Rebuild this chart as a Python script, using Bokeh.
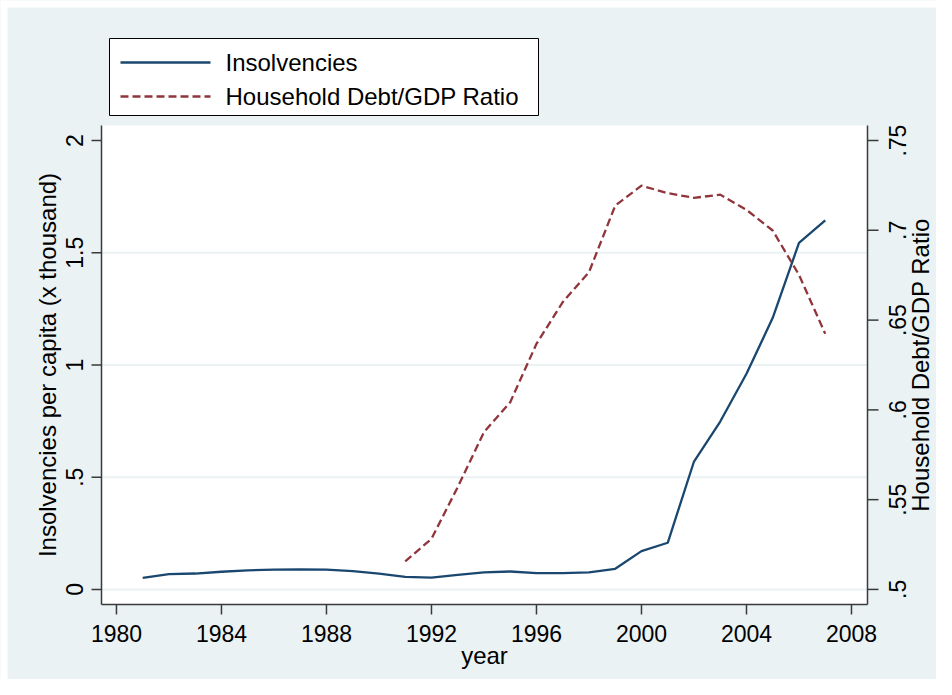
import math
from bokeh.plotting import figure
from bokeh.models import Range1d
from bokeh.core.properties import value
from bokeh.embed import file_html
from bokeh.resources import INLINE

# ---------------- data ----------------
years_ins = [1981, 1982, 1983, 1984, 1985, 1986, 1987, 1988, 1989, 1990,
             1991, 1992, 1993, 1994, 1995, 1996, 1997, 1998, 1999, 2000,
             2001, 2002, 2003, 2004, 2005, 2006, 2007]
insolvencies = [0.052, 0.068, 0.071, 0.079, 0.085, 0.088, 0.089, 0.088, 0.082, 0.071,
                0.056, 0.053, 0.065, 0.076, 0.080, 0.073, 0.073, 0.076, 0.092, 0.171,
                0.208, 0.570, 0.748, 0.961, 1.210, 1.544, 1.644]

years_debt = [1991, 1992, 1993, 1994, 1995, 1996, 1997, 1998, 1999, 2000,
              2001, 2002, 2003, 2004, 2005, 2006, 2007]
debt_ratio = [0.5156, 0.5282, 0.557, 0.5876, 0.6043, 0.6368, 0.6600, 0.6767, 0.7138, 0.7249,
              0.7207, 0.7181, 0.7199, 0.7114, 0.6999, 0.6752, 0.6424]

x_ticks = [1980, 1984, 1988, 1992, 1996, 2000, 2004, 2008]
x_labels = ["1980", "1984", "1988", "1992", "1996", "2000", "2004", "2008"]
left_ticks = [0, 0.5, 1, 1.5, 2]
left_labels = ["0", ".5", "1", "1.5", "2"]
grid_ticks = [0, 0.5, 1, 1.5]
right_ticks = [0.5, 0.55, 0.6, 0.65, 0.7, 0.75]
right_labels = [".5", ".55", ".6", ".65", ".7", ".75"]

x_title = "year"
left_title = "Insolvencies per capita (x thousand)"
right_title = "Household Debt/GDP Ratio"
legend_labels = ["Insolvencies", "Household Debt/GDP Ratio"]

# ---------------- style ----------------
FONT = value("Liberation Sans")
FS_TICK = "23px"
FS_TITLE = "24px"
BG = "#EAF2F3"
AXC = "#3a3a3a"
BLUE = "#1A476F"
RED = "#90353B"
LW = 2.3

# ---------------- geometry (pixels in the figure) ----------------
W, H = 936, 679
L, R, T, B = 101, 867, 125, 604       # white plot region
EDGE = 7                               # thin white edge at top and left

# data extents of the plot region
X0, X1 = 1979.43, 2008.61
Y0, Y1 = -0.067, 2.067
R0, R1 = 0.4916, 0.7584

px_x = (X1 - X0) / (R - L)
px_y = (Y1 - Y0) / (B - T)
px_r = (R1 - R0) / (B - T)

x_range = Range1d(X0 - L * px_x, X0 + (W - L) * px_x)
y_range = Range1d(Y0 - (H - B) * px_y, Y1 + T * px_y)
r_range = Range1d(R0 - (H - B) * px_r, R1 + T * px_r)

def sx(px):  # figure pixel column -> x data
    return x_range.start + px * px_x

def sy(py):  # figure pixel row (from top) -> left y data
    return y_range.end - py * px_y

p = figure(width=W, height=H, output_backend="svg", toolbar_location=None,
           x_range=x_range, y_range=y_range, x_axis_type=None, y_axis_type=None,
           min_border=0)
p.extra_y_ranges = {"debt": r_range}
p.border_fill_color = BG
p.background_fill_color = BG
p.outline_line_color = None
p.grid.visible = False

# thin white edge (top and left)
p.quad(left=[x_range.start, x_range.start], right=[sx(EDGE), x_range.end],
       bottom=[y_range.start, sy(EDGE)], top=[y_range.end, y_range.end],
       fill_color="white", line_color=None)

# plot region and grid lines
p.quad(left=[X0], right=[X1], bottom=[Y0], top=[Y1], fill_color="white", line_color=None)
p.segment(x0=[X0] * len(grid_ticks), x1=[X1] * len(grid_ticks),
          y0=grid_ticks, y1=grid_ticks, line_color=BG, line_width=2)

# data series
p.line(years_ins, insolvencies, line_color=BLUE, line_width=LW)
p.line(years_debt, debt_ratio, line_color=RED, line_width=LW, line_dash="8 4",
       y_range_name="debt")

# axis rules
p.segment(x0=[X0, X0, X1], x1=[X0, X1, X1], y0=[Y0, Y0, Y0], y1=[Y1, Y0, Y1],
          line_color=AXC, line_width=1.5)

TXT = dict(text_align="center", text_baseline="middle", text_font=FONT,
           text_color="black")

# left axis: ticks, labels, title
p.segment(x0=[X0 - 10 * px_x] * len(left_ticks), x1=[X0] * len(left_ticks),
          y0=left_ticks, y1=left_ticks, line_color=AXC, line_width=1.5)
p.text(x=[X0 - 27 * px_x] * len(left_ticks), y=left_ticks, text=left_labels,
       angle=math.pi / 2, text_font_size=FS_TICK, **TXT)
p.text(x=[X0 - 54 * px_x], y=[(Y0 + Y1) / 2], text=[left_title],
       angle=math.pi / 2, text_font_size=FS_TITLE, **TXT)

# bottom axis: ticks, labels, title
p.segment(x0=x_ticks, x1=x_ticks, y0=[Y0] * len(x_ticks),
          y1=[Y0 - 10 * px_y] * len(x_ticks), line_color=AXC, line_width=1.5)
p.text(x=x_ticks, y=[Y0 - 29 * px_y] * len(x_ticks), text=x_labels,
       text_font_size=FS_TICK, **TXT)
p.text(x=[(X0 + X1) / 2], y=[Y0 - 51 * px_y], text=[x_title],
       text_font_size=FS_TITLE, **TXT)

# right axis (debt ratio): ticks, labels, title
p.segment(x0=[X1] * len(right_ticks), x1=[X1 + 11 * px_x] * len(right_ticks),
          y0=right_ticks, y1=right_ticks, line_color=AXC, line_width=1.5,
          y_range_name="debt")
p.text(x=[X1 + 30 * px_x] * len(right_ticks), y=right_ticks, text=right_labels,
       angle=math.pi / 2, text_font_size=FS_TICK, y_range_name="debt", **TXT)
p.text(x=[X1 + 53 * px_x], y=[(R0 + R1) / 2], text=[right_title],
       angle=math.pi / 2, text_font_size=FS_TITLE, y_range_name="debt", **TXT)

# legend box above the plot region
LG_L, LG_R, LG_T, LG_B = 109, 538, 38, 115
row_y = [62, 96]
p.quad(left=[sx(LG_L)], right=[sx(LG_R)], top=[sy(LG_T)], bottom=[sy(LG_B)],
       fill_color="white", line_color="black", line_width=1)
p.segment(x0=[sx(120)], x1=[sx(210)], y0=[sy(row_y[0])], y1=[sy(row_y[0])],
          line_color=BLUE, line_width=LW)
p.segment(x0=[sx(120)], x1=[sx(210)], y0=[sy(row_y[1])], y1=[sy(row_y[1])],
          line_color=RED, line_width=LW, line_dash="8 4")
p.text(x=[sx(225)] * 2, y=[sy(v) for v in row_y], text=legend_labels,
       text_align="left", text_baseline="middle",
       text_font=FONT, text_font_size=FS_TITLE, text_color="black")

open("out.html", "w").write(file_html(p, INLINE))
